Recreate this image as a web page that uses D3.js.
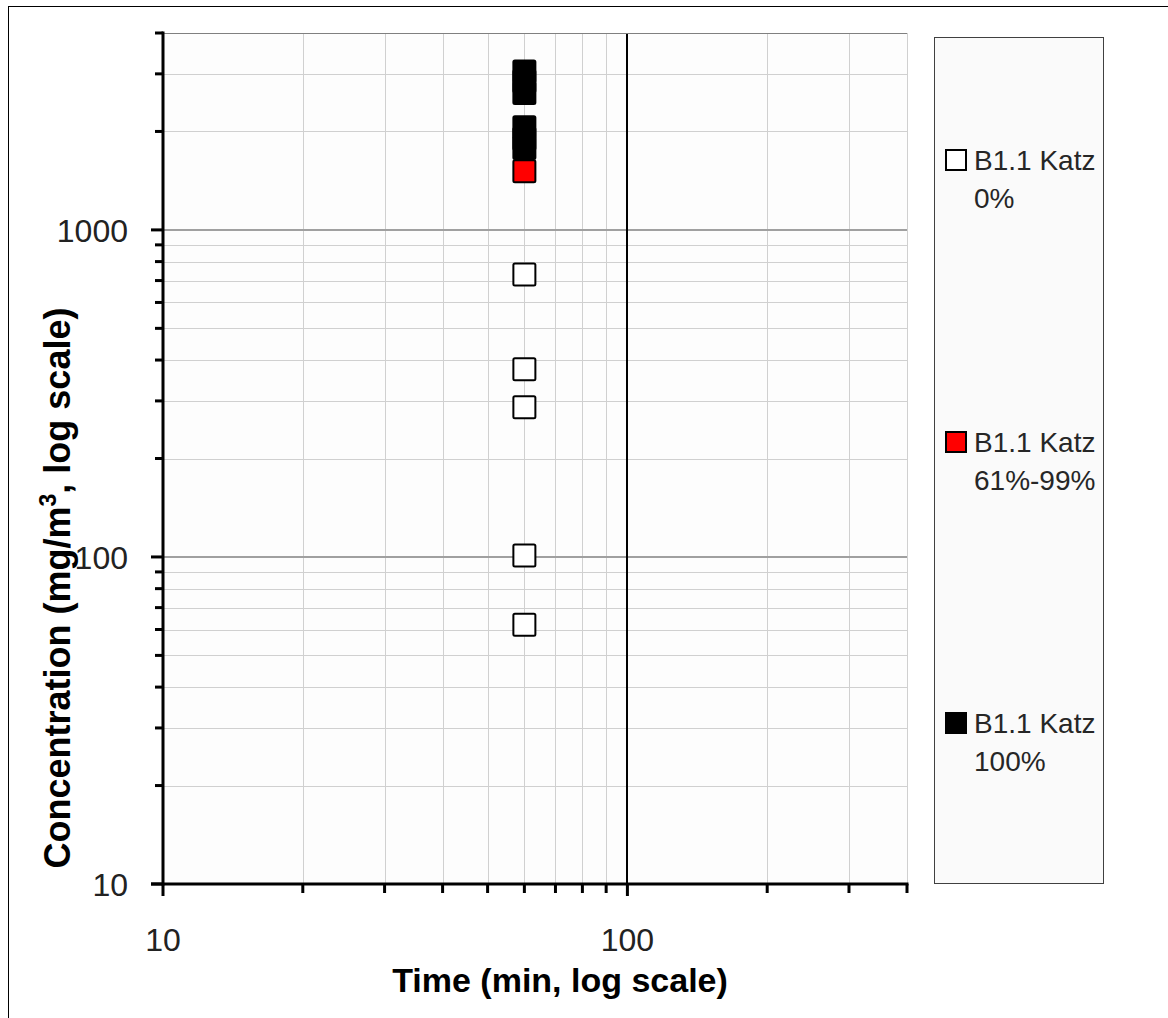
<!DOCTYPE html>
<html><head><meta charset="utf-8">
<script src="https://cdn.jsdelivr.net/npm/d3@7"></script>
<style>
html,body{margin:0;padding:0;background:#fff;}
svg{display:block;}
text{font-family:"Liberation Sans",Arial,sans-serif;}
</style></head>
<body>
<script>
// ---- data ----
const seriesNames = ["B1.1 Katz 0%", "B1.1 Katz 61%-99%", "B1.1 Katz 100%"];
const legendLine1 = ["B1.1 Katz", "B1.1 Katz", "B1.1 Katz"];
const legendLine2 = ["0%", "61%-99%", "100%"];
const timeZero = [60, 60, 60, 60, 60];
const concZero = [730, 375, 287, 101, 62];
const timePartial = [60];
const concPartial = [1510];
const timeFull = [60, 60, 60, 60, 60, 60];
const concFull = [3050, 2850, 2620, 2060, 1900, 1780];
const xTickLabels = [10, 100];
const yTickLabels = [10, 100, 1000];
const xTitle = "Time (min, log scale)";

// ---- layout ----
const W = 1168, H = 1018;
const L = 163, R = 907, T = 33, B = 884;

const svg = d3.select("body").append("svg").attr("width", W).attr("height", H);

// outer chart border (left/top visible)
svg.append("rect").attr("x", 8.5).attr("y", 6.5).attr("width", 1300).attr("height", 1200)
  .attr("fill", "#fff").attr("stroke", "#000").attr("stroke-width", 1);

const x = d3.scaleLog().domain([10, 400]).range([L, R]);
const y = d3.scaleLog().domain([10, 4000]).range([B, T]);

// plot background
svg.append("rect").attr("x", L).attr("y", T).attr("width", R - L).attr("height", B - T).attr("fill", "#fdfdfd");

// minor grid values
const xMinor = [20,30,40,50,60,70,80,90,200,300,400];
const yMinor = [20,30,40,50,60,70,80,90,200,300,400,500,600,700,800,900,2000,3000,4000];

const g = svg.append("g");
g.selectAll(".vx").data(xMinor).join("line")
  .attr("x1", d => Math.round(x(d)) + 0.5).attr("x2", d => Math.round(x(d)) + 0.5)
  .attr("y1", T).attr("y2", B).attr("stroke", "#d0d0d0").attr("stroke-width", 1);
g.selectAll(".hy").data(yMinor).join("line")
  .attr("y1", d => Math.round(y(d)) + 0.5).attr("y2", d => Math.round(y(d)) + 0.5)
  .attr("x1", L).attr("x2", R).attr("stroke", "#d0d0d0").attr("stroke-width", 1);
// major horizontal grid
g.selectAll(".hm").data([100, 1000]).join("line")
  .attr("y1", d => Math.round(y(d))).attr("y2", d => Math.round(y(d)))
  .attr("x1", L).attr("x2", R).attr("stroke", "#a0a0a0").attr("stroke-width", 2);
// major vertical grid at 100
g.selectAll(".vm").data([100]).join("line")
  .attr("x1", d => Math.round(x(d))).attr("x2", d => Math.round(x(d)))
  .attr("y1", T).attr("y2", B).attr("stroke", "#000").attr("stroke-width", 2);
// top border of plot
g.append("line").attr("x1", L).attr("x2", R).attr("y1", T + 0.5).attr("y2", T + 0.5)
  .attr("stroke", "#808080").attr("stroke-width", 1);

// axes
const allX = [10,20,30,40,50,60,70,80,90,100,200,300,400];
const allY = [10,20,30,40,50,60,70,80,90,100,200,300,400,500,600,700,800,900,1000,2000,3000,4000];
const isMajor = d => Math.abs(Math.log10(d) - Math.round(Math.log10(d))) < 1e-9;

const ax = svg.append("g");
ax.selectAll(".xt").data(allX).join("line")
  .attr("x1", d => x(d)).attr("x2", d => x(d))
  .attr("y1", B).attr("y2", d => isMajor(d) ? B + 12 : B + 9)
  .attr("stroke", "#000").attr("stroke-width", 3);
ax.selectAll(".yt").data(allY).join("line")
  .attr("y1", d => y(d)).attr("y2", d => y(d))
  .attr("x1", L).attr("x2", d => isMajor(d) ? L - 12 : L - 8)
  .attr("stroke", "#000").attr("stroke-width", 3);
ax.append("line").attr("x1", L).attr("x2", L).attr("y1", T - 1.5).attr("y2", B + 1.5)
  .attr("stroke", "#000").attr("stroke-width", 3);
ax.append("line").attr("x1", L - 12).attr("x2", R + 1.5).attr("y1", B).attr("y2", B)
  .attr("stroke", "#000").attr("stroke-width", 3);

// tick labels
ax.selectAll(".xl").data(xTickLabels).join("text")
  .attr("x", d => x(d)).attr("y", 951).attr("text-anchor", "middle")
  .attr("font-size", 32).attr("fill", "#222").text(d => d);
ax.selectAll(".yl").data(yTickLabels).join("text")
  .attr("x", 128).attr("y", d => y(d) + 12).attr("text-anchor", "end")
  .attr("font-size", 32).attr("fill", "#222").text(d => d);

// axis titles
svg.append("text").attr("x", 560).attr("y", 992).attr("text-anchor", "middle")
  .attr("font-size", 34).attr("font-weight", "bold").attr("fill", "#000").text(xTitle);
const yt = svg.append("text").attr("transform", "translate(70,588) rotate(-90)")
  .attr("text-anchor", "middle").attr("font-size", 36).attr("font-weight", "bold").attr("fill", "#000");
yt.append("tspan").text("Concentration (mg/m");
yt.append("tspan").attr("font-size", 23).attr("dy", -14).text("3");
yt.append("tspan").attr("dy", 14).text(", log scale)");

// markers
const S = 22;
function drawSquares(xs, ys, fill) {
  svg.append("g").selectAll("rect").data(ys.map((v, i) => [xs[i], v])).join("rect")
    .attr("x", d => x(d[0]) - S / 2).attr("y", d => y(d[1]) - S / 2)
    .attr("width", S).attr("height", S).attr("rx", 1.5)
    .attr("fill", fill).attr("stroke", "#000").attr("stroke-width", 2);
}
drawSquares(timeZero, concZero, "#fff");
drawSquares(timeFull, concFull, "#000");
drawSquares(timePartial, concPartial, "#ff0000");

// legend
svg.append("rect").attr("x", 934.5).attr("y", 37.5).attr("width", 169).attr("height", 846)
  .attr("fill", "#fafafa").attr("stroke", "#404040").attr("stroke-width", 1);
const legFill = ["#fff", "#ff0000", "#000"];
const legY = [160, 442, 723];
const lg = svg.append("g").selectAll("g").data(seriesNames).join("g");
lg.append("rect").attr("x", 946).attr("y", (d, i) => legY[i] - 10).attr("width", 20).attr("height", 20)
  .attr("fill", (d, i) => legFill[i]).attr("stroke", "#000").attr("stroke-width", 2);
lg.append("text").attr("x", 974).attr("y", (d, i) => legY[i] + 10).attr("font-size", 28)
  .attr("fill", "#262626").text((d, i) => legendLine1[i]);
lg.append("text").attr("x", 974).attr("y", (d, i) => legY[i] + 48).attr("font-size", 28)
  .attr("fill", "#262626").text((d, i) => legendLine2[i]);
</script>
</body></html>
